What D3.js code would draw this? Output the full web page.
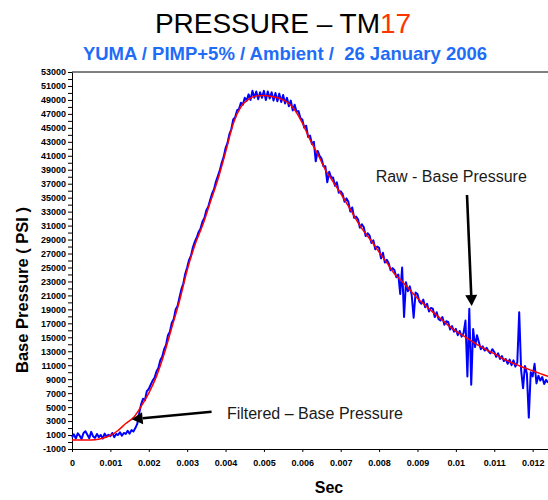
<!DOCTYPE html>
<html lang="en">
<head>
<meta charset="UTF-8">
<title>Pressure - TM17</title>
<style>
    body { margin: 0; background: #ffffff; }
    svg { display: block; font-family: "Liberation Sans", Arial, sans-serif; }
    .tick text { font-weight: bold; font-size: 9px; fill: #000; }
    .note { font-size: 16px; fill: #1a1a1a; }
</style>
<script src="https://d3js.org/d3.v7.min.js"></script>
</head>
<body>
<svg id="chart" width="548" height="500"></svg>
<script>
    // filtered (red) curve, one value every 0.2 ms
    const filteredStepMs = 0.2;
    const filteredPsi = [300, 290, 280, 320, 550, 950, 1650, 2650, 3500, 5100, 7000, 9400, 12600,
        16400, 20200, 24600, 28200, 31000, 34300, 37600, 41500, 45600, 48000, 49100, 49580, 49650,
        49500, 49250, 48700, 47600, 45700, 43300, 41250, 39000, 37300, 35600, 33800, 31900, 30200,
        28800, 27200, 25700, 24100, 23000, 21800, 20600, 19600, 18600, 17700, 16700, 15900, 15200,
        14500, 13800, 13200, 12650, 12000, 11500, 11050, 10600, 10200, 9800, 9400];

    // raw (blue) signal, one value every 0.05 ms
    const rawStepMs = 0.05;
    const rawPsi = [
        650, 1100, 500, 1250,   900, 450, 1300, 1550,   1050, 550, 1450, 800,   600, 1150, 700, 1000,
        500, 1200, 750, 1050,   850, 1300, 700, 1150,   1000, 1400, 900, 1300,  1150, 1600, 1200, 1700,
        1500, 2000, 2600, 4100, 5400, 6200, 6000, 7300, 7600, 8200, 8800, 9200, 10100, 10600, 11700, 12200,
        13300, 13900, 15300, 15800, 17100, 17600, 19000, 19500, 20700, 21900, 22700, 24100,
        25000, 26100, 26700, 27900, 28700, 29300, 30100, 30600, 31600, 32100, 33200, 33700,
        34700, 35600, 36200, 37300, 38100, 38900, 40000, 40800, 42100, 42800, 44100, 44800,
        46200, 46500, 47500, 47700, 48600, 48300, 49300, 48900, 49800, 49000, 50300, 49300,
        50200, 49100, 50100, 49300, 50300, 49000, 50200, 49200, 50100, 48900, 50000, 48800,
        49900, 48700, 49700, 48500, 49300, 48100, 48900, 47500, 48300, 47300, 47400, 46400,
        46200, 45000, 45300, 43700, 43900, 42700, 43000, 40200, 41700, 41000, 40600, 39500,
        39500, 37200, 38700, 37900, 37900, 36700, 37200, 35700, 35900, 35500, 34400, 34900,
        34400, 33000, 33600, 32100, 32300, 31900, 30700, 31200, 30800, 29500, 29900, 29600,
        28500, 28900, 27600, 28000, 27800, 26300, 27100, 25700, 26100, 25600, 24600, 24900,
        24600, 23600, 24000, 21200, 25000, 17900, 22900, 21600, 22300, 21000, 17800, 21400,
        21200, 20100, 19800, 20400, 19300, 19800, 18700, 19200, 19100, 17900, 18600, 17600,
        17400, 17900, 16800, 17300, 17200, 16100, 16600, 15800, 16200, 15300, 15900, 15100,
        15600, 17400, 9400, 19100, 8200, 16200, 13600, 15300, 14300, 13300, 13700, 13100,
        13500, 13000, 12700, 13300, 12900, 12200, 12700, 11900, 12300, 11600, 11900, 11200,
        11800, 11000, 11700, 10800, 11400, 18600, 10300, 7700, 10900, 9800, 3500, 10000,
        9400, 11200, 8400, 9500, 8800, 9300, 8300, 8900, 8500];

    const xTicks = [0, 0.001, 0.002, 0.003, 0.004, 0.005, 0.006, 0.007, 0.008, 0.009, 0.01, 0.011, 0.012];

    const svg = d3.select("#chart");

    const x = d3.scaleLinear().domain([0, 0.0124]).range([72, 548]);
    const y = d3.scaleLinear().domain([-1000, 53000]).range([449, 72]);

    // titles
    const title = svg.append("text")
        .attr("x", 283).attr("y", 33)
        .attr("text-anchor", "middle")
        .attr("font-size", 28);
    title.append("tspan").attr("fill", "#000").text("PRESSURE \u2013 TM");
    title.append("tspan").attr("fill", "#ff3300").text("17");

    svg.append("text")
        .attr("x", 285).attr("y", 60)
        .attr("text-anchor", "middle")
        .attr("font-size", 18.5)
        .attr("font-weight", "bold")
        .attr("fill", "#1f6cf7")
        .style("white-space", "pre")
        .text("YUMA / PIMP+5% / Ambient /  26 January 2006");

    // axes
    const yAxis = d3.axisLeft(y)
        .tickValues(d3.range(-1000, 53001, 1000))
        .tickFormat(d => ((d + 1000) % 2000 === 0) ? d : "")
        .tickSize(4)
        .tickSizeOuter(0)
        .tickPadding(2);

    svg.append("g")
        .attr("transform", "translate(72,0)")
        .attr("font-family", null)
        .call(yAxis);

    const xAxis = d3.axisBottom(x)
        .tickValues(xTicks)
        .tickFormat(d => String(+d.toFixed(3)))
        .tickSize(3)
        .tickSizeOuter(0)
        .tickPadding(7.5);

    svg.append("g")
        .attr("transform", "translate(0,449)")
        .attr("font-family", null)
        .call(xAxis);

    // top frame line
    svg.append("line")
        .attr("x1", x(0)).attr("x2", x(0.0124))
        .attr("y1", y(53000)).attr("y2", y(53000))
        .attr("stroke", "#000");

    svg.append("text")
        .attr("transform", "translate(28,290) rotate(-90)")
        .attr("text-anchor", "middle")
        .attr("font-size", 16.5)
        .attr("font-weight", "bold")
        .style("white-space", "pre")
        .text("Base Pressure ( PSI )");

    svg.append("text")
        .attr("x", 329).attr("y", 493)
        .attr("text-anchor", "middle")
        .attr("font-size", 16)
        .attr("font-weight", "bold")
        .text("Sec");

    // series
    const rawLine = d3.line()
        .x((d, i) => x(i * rawStepMs / 1000))
        .y(d => y(d));

    const filteredLine = d3.line()
        .x((d, i) => x(i * filteredStepMs / 1000))
        .y(d => y(d))
        .curve(d3.curveMonotoneX);

    svg.append("path")
        .datum(rawPsi)
        .attr("d", rawLine)
        .attr("fill", "none")
        .attr("stroke", "#0000ff")
        .attr("stroke-width", 2)
        .attr("stroke-linejoin", "round");

    svg.append("path")
        .datum(filteredPsi)
        .attr("d", filteredLine)
        .attr("fill", "none")
        .attr("stroke", "#ff0000")
        .attr("stroke-width", 1.5);

    // annotations
    function arrow(t1, v1, t2, v2) {
        const x1 = x(t1), y1 = y(v1), x2 = x(t2), y2 = y(v2);
        const a = Math.atan2(y2 - y1, x2 - x1);
        const len = 11, half = 6;
        const bx = x2 - len * Math.cos(a), by = y2 - len * Math.sin(a);
        svg.append("line")
            .attr("x1", x1).attr("y1", y1).attr("x2", bx).attr("y2", by)
            .attr("stroke", "#000").attr("stroke-width", 2.6);
        const pts = [
            [x2, y2],
            [bx + half * Math.sin(a), by - half * Math.cos(a)],
            [bx - half * Math.sin(a), by + half * Math.cos(a)]
        ];
        svg.append("polygon")
            .attr("points", pts.map(p => p.join(",")).join(" "))
            .attr("fill", "#000");
    }

    svg.append("text").attr("class", "note")
        .attr("x", x(0.00791)).attr("y", y(37235))
        .text("Raw - Base Pressure");
    arrow(0.01029, 35373, 0.010412, 19478);

    svg.append("text").attr("class", "note")
        .attr("x", x(0.004035)).attr("y", y(3296))
        .text("Filtered \u2013 Base Pressure");
    arrow(0.003636, 4341, 0.001554, 3253);
</script>
</body>
</html>
